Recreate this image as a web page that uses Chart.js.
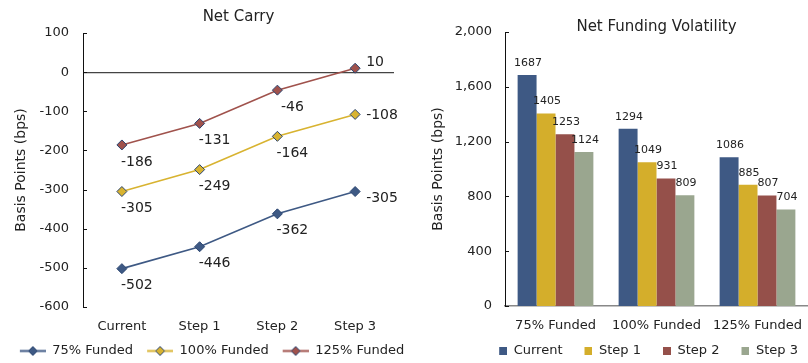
<!DOCTYPE html>
<html><head><meta charset="utf-8">
<script src="https://cdn.jsdelivr.net/npm/chart.js@4.4.1/dist/chart.umd.min.js"></script>
<style>
html,body{margin:0;padding:0;background:#fff;}
#wrap{position:relative;width:808px;height:363px;overflow:hidden;background:#fff;}
#c1{position:absolute;left:0;top:0;}
#c2{position:absolute;left:420px;top:0;}
</style></head><body>
<div id="wrap"><canvas id="c1" width="420" height="363"></canvas><canvas id="c2" width="388" height="363"></canvas></div>
<script>
// ---- Data: Net Carry ----
const carrySteps = ['Current', 'Step 1', 'Step 2', 'Step 3'];
const carrySeries = ['75% Funded', '100% Funded', '125% Funded'];
const carry75 = [-502, -446, -362, -305];
const carry100 = [-305, -249, -164, -108];
const carry125 = [-186, -131, -46, 10];
const carryTicks = [100, 0, -100, -200, -300, -400, -500, -600];

// ---- Data: Net Funding Volatility ----
const volGroups = ['75% Funded', '100% Funded', '125% Funded'];
const volSeries = ['Current', 'Step 1', 'Step 2', 'Step 3'];
const volCurrent = [1687, 1294, 1086];
const volStep1 = [1405, 1049, 885];
const volStep2 = [1253, 931, 807];
const volStep3 = [1124, 809, 704];
const volTicks = [0, 400, 800, 1200, 1600, 2000];

// ---- Styles ----
const cBlue = '#3E5984', cYellow = '#D4AE2B', cRed = '#95504A', cSage = '#9AA68F';
const lineRed = '#A0524C', lineYellow = '#D8B330';
const markerEdge = '#2B4570';
const txt = '#222';
const FONT = "'DejaVu Sans', Verdana, sans-serif";
Chart.defaults.font.family = FONT;
Chart.defaults.color = txt;

function lineMarker(color) {
  const c = document.createElement('canvas'); c.width = 30; c.height = 11;
  const g = c.getContext('2d');
  g.strokeStyle = color; g.lineWidth = 2;
  g.beginPath(); g.moveTo(4, 5.5); g.lineTo(30, 5.5); g.stroke();
  g.fillStyle = color; g.strokeStyle = markerEdge; g.lineWidth = 1;
  g.beginPath(); g.moveTo(17, 1); g.lineTo(21.5, 5.5); g.lineTo(17, 10); g.lineTo(12.5, 5.5); g.closePath();
  g.fill(); g.stroke();
  return c;
}
function squareMarker(color) {
  const c = document.createElement('canvas'); c.width = 20; c.height = 8;
  const g = c.getContext('2d');
  g.fillStyle = color; g.fillRect(12, 0, 8, 8);
  return c;
}
const lineMarkers = [lineMarker(cBlue), lineMarker(lineYellow), lineMarker(lineRed)];
const barMarkers = [squareMarker(cBlue), squareMarker(cYellow), squareMarker(cRed), squareMarker(cSage)];

const insideTicks = {
  id: 'insideTicks',
  afterDraw(chart) {
    const s = chart.scales.y, ctx = chart.ctx;
    ctx.save(); ctx.strokeStyle = '#111'; ctx.lineWidth = 1;
    s.ticks.forEach((t, i) => {
      const y = Math.round(s.getPixelForTick(i)) + 0.5;
      ctx.beginPath(); ctx.moveTo(s.right, y); ctx.lineTo(s.right + 4, y); ctx.stroke();
    });
    ctx.restore();
  }
};

const lineLabels = {
  id: 'lineLabels',
  afterDatasetsDraw(chart) {
    const ctx = chart.ctx;
    ctx.save(); ctx.font = '14px ' + FONT; ctx.fillStyle = txt; ctx.textBaseline = 'middle';
    chart.data.datasets.forEach((ds, di) => {
      chart.getDatasetMeta(di).data.forEach((pt, i) => {
        const v = ds.data[i];
        if (i === ds.data.length - 1) { ctx.textAlign = 'left'; ctx.fillText(String(v), pt.x + 11, pt.y + ds.lastLabelDy); }
        else { ctx.textAlign = 'center'; ctx.fillText(String(v), pt.x + 15, pt.y + 17); }
      });
    });
    ctx.restore();
  }
};

const barLabels = {
  id: 'barLabels',
  afterDatasetsDraw(chart) {
    const ctx = chart.ctx;
    ctx.save(); ctx.font = '11px ' + FONT; ctx.fillStyle = txt; ctx.textBaseline = 'middle'; ctx.textAlign = 'center';
    chart.data.datasets.forEach((ds, di) => {
      chart.getDatasetMeta(di).data.forEach((bar, i) => {
        ctx.fillText(String(ds.data[i]), bar.x + 1, bar.y - 12);
      });
    });
    ctx.restore();
  }
};

function lineDs(label, data, color, lineColor, dy) {
  return { label, data, borderColor: lineColor, backgroundColor: color, pointBackgroundColor: color,
    pointBorderColor: markerEdge, pointBorderWidth: 1, pointStyle: 'rectRot', pointRadius: 5,
    borderWidth: 1.6, tension: 0, lastLabelDy: dy };
}

function withMarkers(imgs) {
  return function (chart) {
    const items = Chart.defaults.plugins.legend.labels.generateLabels(chart);
    items.forEach((it, i) => { it.pointStyle = imgs[i]; it.lineWidth = 0; });
    return items;
  };
}

new Chart(document.getElementById('c1'), {
  type: 'line',
  data: { labels: carrySteps, datasets: [
    lineDs(carrySeries[0], carry75, cBlue, cBlue, 7),
    lineDs(carrySeries[1], carry100, lineYellow, lineYellow, 1),
    lineDs(carrySeries[2], carry125, lineRed, lineRed, -6)
  ]},
  plugins: [insideTicks, lineLabels],
  options: {
    responsive: false, animation: false,
    layout: { padding: { left: 0, right: 0, top: 0, bottom: -4.5 } },
    plugins: {
      tooltip: { enabled: false },
      title: { display: true, text: 'Net Carry', fullSize: false, color: txt,
        font: { size: 15, weight: 'normal' }, padding: { top: 8, bottom: 7 } },
      legend: { position: 'bottom', labels: { usePointStyle: true, pointStyleWidth: 30, padding: 10,
        color: txt, font: { size: 13 }, generateLabels: withMarkers(lineMarkers) } }
    },
    scales: {
      x: { offset: true, grid: { display: false, drawTicks: false }, border: { display: false },
        ticks: { padding: 11.7, font: { size: 13 }, color: txt },
        afterFit(s) { s.height = 27.5; s.paddingRight = 0; } },
      y: { min: Math.min(...carryTicks), max: Math.max(...carryTicks),
        afterBuildTicks(s) { s.ticks = carryTicks.map(v => ({ value: v })); },
        grid: { drawOnChartArea: true, drawTicks: false, lineWidth: 1.2,
          color: c => (c.tick && c.tick.value === 0) ? '#444' : 'rgba(0,0,0,0)' },
        border: { display: true, color: '#111', width: 1 },
        ticks: { padding: 14, font: { size: 13 }, color: txt },
        title: { display: true, text: 'Basis Points (bps)', color: txt, font: { size: 14 }, padding: { top: 12.6, bottom: 0 } },
        afterFit(s) { s.width = 83; } },
      y2: { type: 'linear', position: 'right', display: true, grid: { display: false, drawTicks: false },
        border: { display: false }, ticks: { display: false },
        afterFit(s) { s.width = 26; } }
    }
  }
});

new Chart(document.getElementById('c2'), {
  type: 'bar',
  data: { labels: volGroups, datasets: [
    { label: volSeries[0], data: volCurrent, backgroundColor: cBlue },
    { label: volSeries[1], data: volStep1, backgroundColor: cYellow },
    { label: volSeries[2], data: volStep2, backgroundColor: cRed },
    { label: volSeries[3], data: volStep3, backgroundColor: cSage }
  ]},
  plugins: [insideTicks, barLabels],
  options: {
    responsive: false, animation: false,
    layout: { padding: { left: 0, right: 0, top: 0, bottom: -4.5 } },
    datasets: { bar: { categoryPercentage: 0.75, barPercentage: 1 } },
    plugins: {
      tooltip: { enabled: false },
      title: { display: true, text: 'Net Funding Volatility', fullSize: false, color: txt,
        font: { size: 15, weight: 'normal' }, padding: { top: 18, bottom: -4 } },
      legend: { position: 'bottom', align: 'end', labels: { usePointStyle: true, pointStyleWidth: 20, padding: 10,
        color: txt, font: { size: 13 }, generateLabels: withMarkers(barMarkers) } }
    },
    scales: {
      x: { grid: { display: false, drawTicks: false }, border: { display: true, color: '#888', width: 1.5 },
        ticks: { padding: 12.2, font: { size: 13 }, color: txt },
        afterFit(s) { s.height = 28.5; s.paddingRight = 0; s.paddingLeft = 0; } },
      y: { min: Math.min(...volTicks), max: Math.max(...volTicks),
        afterBuildTicks(s) { s.ticks = volTicks.map(v => ({ value: v })); },
        grid: { display: false, drawTicks: false },
        border: { display: true, color: '#111', width: 1 },
        ticks: { padding: 13, font: { size: 13 }, color: txt, callback: v => Number(v).toLocaleString('en-US') },
        title: { display: true, text: 'Basis Points (bps)', color: txt, font: { size: 14 }, padding: { top: 9.6, bottom: 0 } },
        afterFit(s) { s.width = 85; } }
    }
  }
});
</script>
</body></html>
